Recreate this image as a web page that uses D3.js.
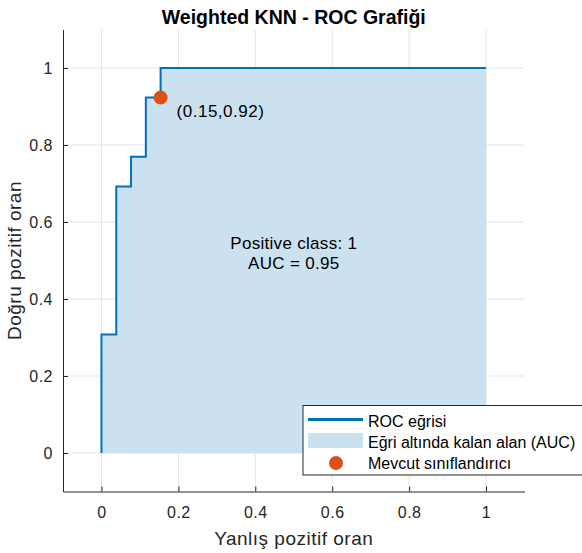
<!DOCTYPE html>
<html>
<head>
<meta charset="utf-8">
<script src="https://cdn.jsdelivr.net/npm/d3@7"></script>
<style>
  body { margin: 0; background: #fff; }
  text { font-family: "Liberation Sans", Arial, sans-serif; }
</style>
</head>
<body>
<svg id="svg" width="582" height="553"></svg>
<script>
// ROC step points
const fpr = [0, 0, 0.0385, 0.0385, 0.0769, 0.0769, 0.1154, 0.1154, 0.1538, 0.1538, 1];
const tpr = [0, 0.3077, 0.3077, 0.6923, 0.6923, 0.7692, 0.7692, 0.9231, 0.9231, 1, 1];
const opPoint = [0.1538, 0.9231];
const opLabel = "(0.15,0.92)";
const xTicks = [0, 0.2, 0.4, 0.6, 0.8, 1];
const yTicks = [0, 0.2, 0.4, 0.6, 0.8, 1];
const aucText = ["Positive class: 1", "AUC = 0.95"];
const legendLabels = ["ROC eğrisi", "Eğri altında kalan alan (AUC)", "Mevcut sınıflandırıcı"];

const pLeft = 63, pRight = 524.5, pTop = 29.5, pBottom = 491.5;
const lineColor = "#0072bd";
const fillColor = "#cbe1ef";
const dotColor = "#d95319";

const svg = d3.select("#svg");
const x = d3.scaleLinear().domain([-0.1, 1.1]).range([pLeft, pRight]);
const y = d3.scaleLinear().domain([-0.1, 1.1]).range([pBottom, pTop]);
const pts = fpr.map((f, i) => [f, tpr[i]]);

// grid
svg.append("g")
  .selectAll("line")
  .data(xTicks)
  .join("line")
  .attr("x1", d => x(d))
  .attr("x2", d => x(d))
  .attr("y1", pTop)
  .attr("y2", pBottom)
  .attr("stroke", "#e3e3e3");
svg.append("g")
  .selectAll("line")
  .data(yTicks)
  .join("line")
  .attr("x1", pLeft)
  .attr("x2", pRight)
  .attr("y1", d => y(d))
  .attr("y2", d => y(d))
  .attr("stroke", "#e3e3e3");

// area under curve
svg.append("path")
  .attr("d", d3.area().x(d => x(d[0])).y0(y(0)).y1(d => y(d[1]))(pts))
  .attr("fill", fillColor);

// roc line
svg.append("path")
  .attr("d", d3.line().x(d => x(d[0])).y(d => y(d[1]))(pts))
  .attr("fill", "none")
  .attr("stroke", lineColor)
  .attr("stroke-width", 2);

// axes
const xAxis = svg.append("g")
  .attr("transform", `translate(0,${pBottom})`)
  .call(d3.axisBottom(x).tickValues(xTicks).tickSizeInner(-5).tickSizeOuter(0).tickPadding(15).tickFormat(d3.format("~g")));
const yAxis = svg.append("g")
  .attr("transform", `translate(${pLeft},0)`)
  .call(d3.axisLeft(y).tickValues(yTicks).tickSizeInner(-5).tickSizeOuter(0).tickPadding(10).tickFormat(d3.format("~g")));
[xAxis, yAxis].forEach(g => {
  g.select(".domain").attr("stroke", "#262626");
  g.selectAll(".tick line").attr("stroke", "#262626");
  g.selectAll(".tick text")
    .attr("fill", "#262626")
    .style("font-size", "16px")
    .style("letter-spacing", "0.5px")
    .style("font-family", "'Liberation Sans', Arial, sans-serif");
});

// operating point
svg.append("circle")
  .attr("cx", x(opPoint[0]))
  .attr("cy", y(opPoint[1]))
  .attr("r", 7)
  .attr("fill", dotColor);
svg.append("text")
  .attr("x", x(opPoint[0]) + 16)
  .attr("y", y(opPoint[1]) + 19)
  .attr("font-size", 17)
  .attr("letter-spacing", 0.5)
  .attr("fill", "#000")
  .text(opLabel);

// AUC text
svg.append("text")
  .attr("x", x(0.5))
  .attr("y", y(0.5))
  .attr("text-anchor", "middle")
  .attr("font-size", 17)
  .attr("letter-spacing", 0.3)
  .selectAll("tspan")
  .data(aucText)
  .join("tspan")
  .attr("x", x(0.5))
  .attr("dy", (d, i) => i === 0 ? "-0.7em" : "1.2em")
  .text(d => d);

// titles
svg.append("text")
  .attr("x", (pLeft + pRight) / 2)
  .attr("y", 24)
  .attr("text-anchor", "middle")
  .attr("font-size", 19.5)
  .attr("font-weight", "bold")
  .text("Weighted KNN - ROC Grafiği");
svg.append("text")
  .attr("x", (pLeft + pRight) / 2)
  .attr("y", 545)
  .attr("text-anchor", "middle")
  .attr("font-size", 19)
  .attr("letter-spacing", 0.5)
  .attr("fill", "#262626")
  .text("Yanlış pozitif oran");
svg.append("text")
  .attr("transform", `translate(21,${(pTop + pBottom) / 2}) rotate(-90)`)
  .attr("text-anchor", "middle")
  .attr("font-size", 19)
  .attr("letter-spacing", 0.5)
  .attr("fill", "#262626")
  .text("Doğru pozitif oran");

// legend
const lg = svg.append("g").attr("transform", "translate(303,405.5)");
lg.append("rect")
  .attr("width", 290)
  .attr("height", 69.5)
  .attr("fill", "#fff")
  .attr("stroke", "#262626")
  .attr("stroke-width", 1);
lg.append("line")
  .attr("x1", 5).attr("x2", 60)
  .attr("y1", 14).attr("y2", 14)
  .attr("stroke", lineColor)
  .attr("stroke-width", 3);
lg.append("rect")
  .attr("x", 5).attr("y", 27.5)
  .attr("width", 55).attr("height", 15)
  .attr("fill", fillColor);
lg.append("circle")
  .attr("cx", 33).attr("cy", 57.5)
  .attr("r", 7)
  .attr("fill", dotColor);
lg.selectAll("text.lbl")
  .data(legendLabels)
  .join("text")
  .attr("class", "lbl")
  .attr("x", 65)
  .attr("y", (d, i) => 21 + i * 21)
  .attr("font-size", 16)
  .attr("fill", "#000")
  .text(d => d);
</script>
</body>
</html>
